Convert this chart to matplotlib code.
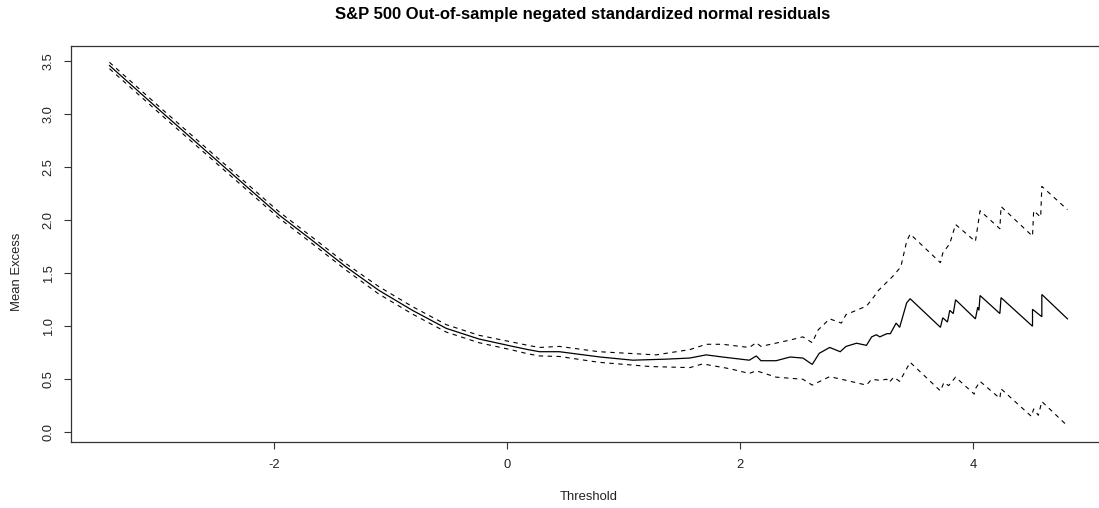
import matplotlib
matplotlib.use("Agg")
import matplotlib.pyplot as plt

plt.rcParams['font.family'] = ['Liberation Sans', 'DejaVu Sans']

# Mean excess (centre line)
center_x = [-3.41, -2.93, -2.36, -1.955, -1.67, -1.38, -1.10, -0.81, -0.52, -0.38, -0.24,
            0.05, 0.18, 0.28, 0.45, 0.80, 1.08, 1.37, 1.567, 1.71, 1.85, 2.08, 2.14, 2.18,
            2.31, 2.43, 2.54, 2.62, 2.68, 2.77, 2.86, 2.91, 3.00, 3.085, 3.13, 3.17, 3.20,
            3.26, 3.29, 3.34, 3.37, 3.43, 3.46, 3.72, 3.74, 3.78, 3.80, 3.83, 3.85, 4.02,
            4.04, 4.05, 4.06, 4.23, 4.24, 4.51, 4.51, 4.59, 4.59, 4.81]
center_y = [3.46, 2.99, 2.44, 2.05, 1.81, 1.56, 1.34, 1.15, 0.98, 0.93, 0.88,
            0.81, 0.78, 0.76, 0.76, 0.71, 0.68, 0.69, 0.70, 0.73, 0.71, 0.68, 0.72, 0.675,
            0.675, 0.71, 0.70, 0.64, 0.745, 0.80, 0.76, 0.81, 0.84, 0.82, 0.90, 0.92, 0.90,
            0.93, 0.93, 1.03, 0.99, 1.22, 1.26, 0.99, 1.08, 1.04, 1.15, 1.12, 1.25, 1.07,
            1.18, 1.15, 1.29, 1.12, 1.27, 1.00, 1.16, 1.09, 1.30, 1.07]

# Upper confidence band
upper_x = [-3.41, -2.93, -2.36, -1.955, -1.67, -1.38, -1.10, -0.81, -0.52, -0.38, -0.24,
           0.05, 0.18, 0.28, 0.45, 0.79, 1.28, 1.57, 1.71, 1.85, 2.08, 2.14, 2.18, 2.43,
           2.54, 2.62, 2.67, 2.77, 2.87, 2.91, 3.085, 3.13, 3.19, 3.31, 3.38, 3.43, 3.46,
           3.72, 3.74, 3.80, 3.85, 4.02, 4.06, 4.23, 4.24, 4.51, 4.52, 4.58, 4.59, 4.81]
upper_y = [3.49, 3.02, 2.47, 2.08, 1.84, 1.59, 1.375, 1.185, 1.015, 0.965, 0.915,
           0.85, 0.82, 0.80, 0.81, 0.76, 0.73, 0.78, 0.83, 0.83, 0.80, 0.845, 0.81, 0.87,
           0.90, 0.845, 0.965, 1.07, 1.03, 1.11, 1.19, 1.25, 1.34, 1.47, 1.56, 1.80, 1.87,
           1.60, 1.69, 1.78, 1.96, 1.80, 2.09, 1.92, 2.13, 1.85, 2.09, 2.03, 2.32, 2.10]

# Lower confidence band
lower_x = [-3.41, -2.93, -2.36, -1.955, -1.67, -1.38, -1.10, -0.81, -0.52, -0.38, -0.24,
           0.05, 0.18, 0.28, 0.45, 0.79, 1.23, 1.57, 1.68, 1.91, 2.08, 2.14, 2.31, 2.54,
           2.62, 2.77, 2.91, 3.085, 3.13, 3.20, 3.26, 3.28, 3.32, 3.37, 3.46, 3.72, 3.75,
           3.79, 3.85, 4.01, 4.02, 4.06, 4.23, 4.24, 4.50, 4.52, 4.56, 4.59, 4.81]
lower_y = [3.43, 2.96, 2.41, 2.02, 1.78, 1.53, 1.305, 1.115, 0.945, 0.895, 0.845,
           0.775, 0.74, 0.72, 0.715, 0.66, 0.62, 0.61, 0.645, 0.60, 0.555, 0.58, 0.52, 0.50,
           0.445, 0.525, 0.49, 0.445, 0.50, 0.49, 0.50, 0.47, 0.52, 0.48, 0.66, 0.39, 0.47,
           0.44, 0.52, 0.36, 0.41, 0.48, 0.32, 0.41, 0.15, 0.22, 0.16, 0.29, 0.06]

x_ticks = [-2, 0, 2, 4]
y_ticks = [0.0, 0.5, 1.0, 1.5, 2.0, 2.5, 3.0, 3.5]
title = "S&P 500 Out-of-sample negated standardized normal residuals"
x_label = "Threshold"
y_label = "Mean Excess"

W, H = 1099, 508
fig = plt.figure(figsize=(W / 100, H / 100), dpi=100)
left, right, top, bottom = 71, 1106.4, 46, 441.7
ax = fig.add_axes([left / W, 1 - bottom / H, (right - left) / W, (bottom - top) / H])

ax.plot(center_x, center_y, color='black', lw=0.9, solid_joinstyle='miter')
ax.plot(upper_x, upper_y, color='black', lw=0.8, linestyle=(0, (4, 4)))
ax.plot(lower_x, lower_y, color='black', lw=0.8, linestyle=(0, (4, 4)))

ax.set_xlim(-3.74, 5.144)
ax.set_ylim(-0.089, 3.644)
ax.set_xticks(x_ticks)
ax.set_xticklabels([str(v) for v in x_ticks])
ax.set_yticks(y_ticks)
ax.set_yticklabels([f"{v:.1f}" for v in y_ticks], rotation=90, va='center')

for s in ax.spines.values():
    s.set_color('#333333')
    s.set_linewidth(0.9)
ax.tick_params(axis='both', direction='out', length=5.2, width=0.8, color='#333333',
               labelsize=9.3, labelcolor='#222222')
ax.tick_params(axis='x', pad=7)
ax.tick_params(axis='y', pad=6.5)

fig.text((71 + 1095) / 2 / W, 1 - 15 / H, title, ha='center', va='center',
         fontsize=12, fontweight='bold')
fig.text(589 / W, 1 - 497 / H, x_label, ha='center', va='center', fontsize=9.4, color='#222222')
fig.text(17 / W, 1 - 272 / H, y_label, ha='center', va='center', rotation=90, fontsize=9.4,
         color='#222222')

fig.savefig("out.png", dpi=100)
